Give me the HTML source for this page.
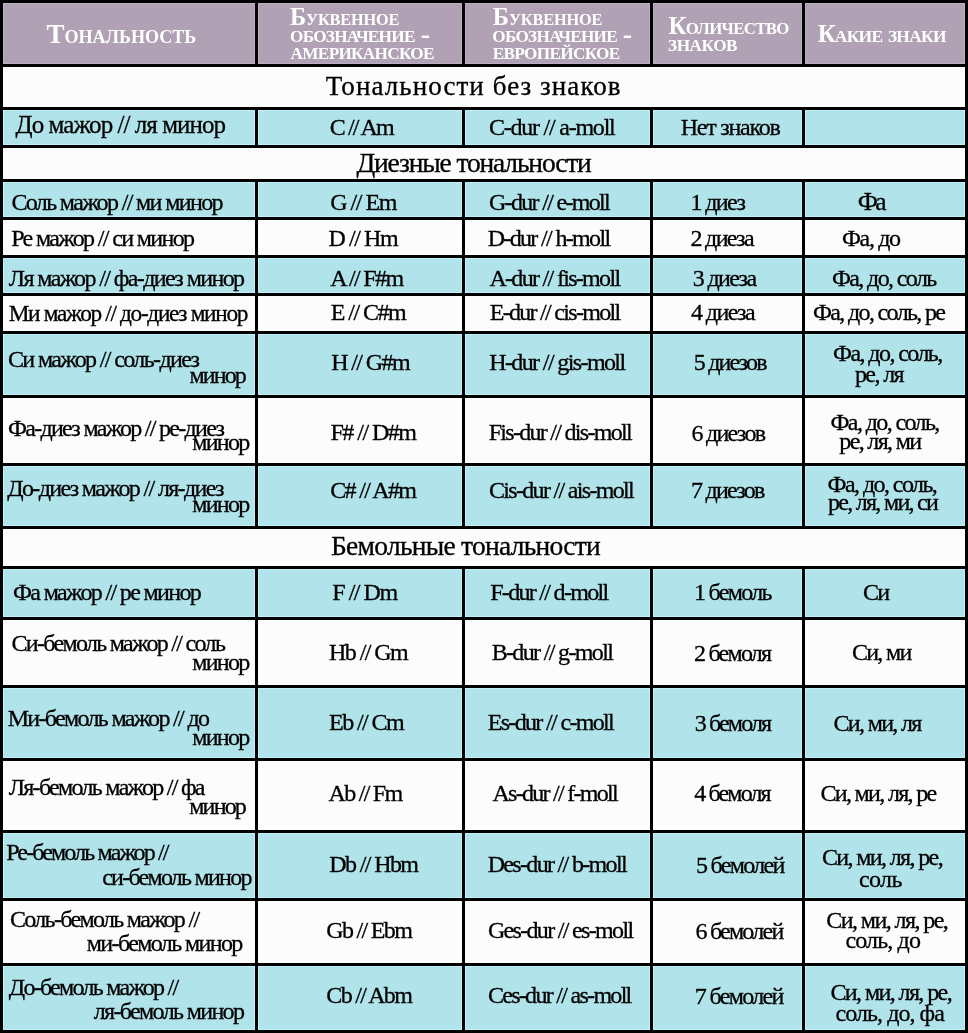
<!DOCTYPE html>
<html lang="ru"><head><meta charset="utf-8"><title>Тональности</title>
<style>
html,body{margin:0;padding:0}
body{width:968px;height:1033px;background:#000;position:relative;overflow:hidden;font-family:"Liberation Serif","Times New Roman",serif;color:#000}
.c{position:absolute}
.p{background:#b0a2b4;box-shadow:inset 0 0 0 1px #bcaec1}
.b{background:#b0e4ea;box-shadow:inset 0 0 0 1px #bdf1f7}
.w{background:#fcfcfc}
.t{position:absolute;white-space:pre;line-height:1;color:#000;-webkit-text-stroke:0.3px #000}
.h,.hd{font-weight:bold;color:#fff;-webkit-text-stroke:0}
</style></head><body>
<div class="c p" style="left:3px;top:3px;width:252px;height:61px"></div>
<div class="c p" style="left:258px;top:3px;width:204px;height:61px"></div>
<div class="c p" style="left:465px;top:3px;width:185px;height:61px"></div>
<div class="c p" style="left:653px;top:3px;width:149px;height:61px"></div>
<div class="c p" style="left:805px;top:3px;width:160px;height:61px"></div>
<div class="c w" style="left:3px;top:67px;width:962px;height:40px"></div>
<div class="c b" style="left:3px;top:110px;width:252px;height:35px"></div>
<div class="c b" style="left:258px;top:110px;width:204px;height:35px"></div>
<div class="c b" style="left:465px;top:110px;width:185px;height:35px"></div>
<div class="c b" style="left:653px;top:110px;width:149px;height:35px"></div>
<div class="c b" style="left:805px;top:110px;width:160px;height:35px"></div>
<div class="c w" style="left:3px;top:148px;width:962px;height:31px"></div>
<div class="c b" style="left:3px;top:182px;width:252px;height:35px"></div>
<div class="c b" style="left:258px;top:182px;width:204px;height:35px"></div>
<div class="c b" style="left:465px;top:182px;width:185px;height:35px"></div>
<div class="c b" style="left:653px;top:182px;width:149px;height:35px"></div>
<div class="c b" style="left:805px;top:182px;width:160px;height:35px"></div>
<div class="c w" style="left:3px;top:220px;width:252px;height:35px"></div>
<div class="c w" style="left:258px;top:220px;width:204px;height:35px"></div>
<div class="c w" style="left:465px;top:220px;width:185px;height:35px"></div>
<div class="c w" style="left:653px;top:220px;width:149px;height:35px"></div>
<div class="c w" style="left:805px;top:220px;width:160px;height:35px"></div>
<div class="c b" style="left:3px;top:258px;width:252px;height:35px"></div>
<div class="c b" style="left:258px;top:258px;width:204px;height:35px"></div>
<div class="c b" style="left:465px;top:258px;width:185px;height:35px"></div>
<div class="c b" style="left:653px;top:258px;width:149px;height:35px"></div>
<div class="c b" style="left:805px;top:258px;width:160px;height:35px"></div>
<div class="c w" style="left:3px;top:296px;width:252px;height:35px"></div>
<div class="c w" style="left:258px;top:296px;width:204px;height:35px"></div>
<div class="c w" style="left:465px;top:296px;width:185px;height:35px"></div>
<div class="c w" style="left:653px;top:296px;width:149px;height:35px"></div>
<div class="c w" style="left:805px;top:296px;width:160px;height:35px"></div>
<div class="c b" style="left:3px;top:334px;width:252px;height:61px"></div>
<div class="c b" style="left:258px;top:334px;width:204px;height:61px"></div>
<div class="c b" style="left:465px;top:334px;width:185px;height:61px"></div>
<div class="c b" style="left:653px;top:334px;width:149px;height:61px"></div>
<div class="c b" style="left:805px;top:334px;width:160px;height:61px"></div>
<div class="c w" style="left:3px;top:398px;width:252px;height:65px"></div>
<div class="c w" style="left:258px;top:398px;width:204px;height:65px"></div>
<div class="c w" style="left:465px;top:398px;width:185px;height:65px"></div>
<div class="c w" style="left:653px;top:398px;width:149px;height:65px"></div>
<div class="c w" style="left:805px;top:398px;width:160px;height:65px"></div>
<div class="c b" style="left:3px;top:466px;width:252px;height:60px"></div>
<div class="c b" style="left:258px;top:466px;width:204px;height:60px"></div>
<div class="c b" style="left:465px;top:466px;width:185px;height:60px"></div>
<div class="c b" style="left:653px;top:466px;width:149px;height:60px"></div>
<div class="c b" style="left:805px;top:466px;width:160px;height:60px"></div>
<div class="c w" style="left:3px;top:529px;width:962px;height:37px"></div>
<div class="c b" style="left:3px;top:569px;width:252px;height:48px"></div>
<div class="c b" style="left:258px;top:569px;width:204px;height:48px"></div>
<div class="c b" style="left:465px;top:569px;width:185px;height:48px"></div>
<div class="c b" style="left:653px;top:569px;width:149px;height:48px"></div>
<div class="c b" style="left:805px;top:569px;width:160px;height:48px"></div>
<div class="c w" style="left:3px;top:620px;width:252px;height:65px"></div>
<div class="c w" style="left:258px;top:620px;width:204px;height:65px"></div>
<div class="c w" style="left:465px;top:620px;width:185px;height:65px"></div>
<div class="c w" style="left:653px;top:620px;width:149px;height:65px"></div>
<div class="c w" style="left:805px;top:620px;width:160px;height:65px"></div>
<div class="c b" style="left:3px;top:688px;width:252px;height:70px"></div>
<div class="c b" style="left:258px;top:688px;width:204px;height:70px"></div>
<div class="c b" style="left:465px;top:688px;width:185px;height:70px"></div>
<div class="c b" style="left:653px;top:688px;width:149px;height:70px"></div>
<div class="c b" style="left:805px;top:688px;width:160px;height:70px"></div>
<div class="c w" style="left:3px;top:761px;width:252px;height:69px"></div>
<div class="c w" style="left:258px;top:761px;width:204px;height:69px"></div>
<div class="c w" style="left:465px;top:761px;width:185px;height:69px"></div>
<div class="c w" style="left:653px;top:761px;width:149px;height:69px"></div>
<div class="c w" style="left:805px;top:761px;width:160px;height:69px"></div>
<div class="c b" style="left:3px;top:833px;width:252px;height:65px"></div>
<div class="c b" style="left:258px;top:833px;width:204px;height:65px"></div>
<div class="c b" style="left:465px;top:833px;width:185px;height:65px"></div>
<div class="c b" style="left:653px;top:833px;width:149px;height:65px"></div>
<div class="c b" style="left:805px;top:833px;width:160px;height:65px"></div>
<div class="c w" style="left:3px;top:901px;width:252px;height:62px"></div>
<div class="c w" style="left:258px;top:901px;width:204px;height:62px"></div>
<div class="c w" style="left:465px;top:901px;width:185px;height:62px"></div>
<div class="c w" style="left:653px;top:901px;width:149px;height:62px"></div>
<div class="c w" style="left:805px;top:901px;width:160px;height:62px"></div>
<div class="c b" style="left:3px;top:966px;width:252px;height:64px"></div>
<div class="c b" style="left:258px;top:966px;width:204px;height:64px"></div>
<div class="c b" style="left:465px;top:966px;width:185px;height:64px"></div>
<div class="c b" style="left:653px;top:966px;width:149px;height:64px"></div>
<div class="c b" style="left:805px;top:966px;width:160px;height:64px"></div>
<span class="t h" style="left:46.46px;top:20.80px;font-size:27px;letter-spacing:-0.038px">Т<span class="sc" style="font-size:18.1px;text-transform:uppercase">ональность</span></span>
<span class="t h" style="left:290.06px;top:4.70px;font-size:24.5px;letter-spacing:-0.161px">Б<span class="sc" style="font-size:16.3px;text-transform:uppercase">уквенное</span></span>
<span class="t h" style="left:290.00px;top:22.00px;font-size:24.5px;letter-spacing:-0.713px"><span class="sc" style="font-size:17.2px;text-transform:uppercase">обозначение</span></span>
<span class="t hd" style="left:420.65px;top:19.57px;font-size:28px;letter-spacing:0.000px">-</span>
<span class="t h" style="left:290.61px;top:39.00px;font-size:24.5px;letter-spacing:-0.694px"><span class="sc" style="font-size:17.2px;text-transform:uppercase">американское</span></span>
<span class="t h" style="left:492.81px;top:4.70px;font-size:24.5px;letter-spacing:-0.118px">Б<span class="sc" style="font-size:16.3px;text-transform:uppercase">уквенное</span></span>
<span class="t h" style="left:492.25px;top:22.00px;font-size:24.5px;letter-spacing:-0.708px"><span class="sc" style="font-size:17.2px;text-transform:uppercase">обозначение</span></span>
<span class="t hd" style="left:622.85px;top:19.57px;font-size:28px;letter-spacing:0.000px">-</span>
<span class="t h" style="left:492.63px;top:39.00px;font-size:24.5px;letter-spacing:-0.662px"><span class="sc" style="font-size:17.2px;text-transform:uppercase">европейское</span></span>
<span class="t h" style="left:668.46px;top:13.80px;font-size:24.7px;letter-spacing:-0.643px">К<span class="sc" style="font-size:16.8px;text-transform:uppercase">оличество</span></span>
<span class="t h" style="left:668.12px;top:29.90px;font-size:25.5px;letter-spacing:-0.464px"><span class="sc" style="font-size:17.2px;text-transform:uppercase">знаков</span></span>
<span class="t h" style="left:817.66px;top:21.70px;font-size:24.7px;letter-spacing:-0.716px;word-spacing:2px">К<span class="sc" style="font-size:17.4px;text-transform:uppercase">акие знаки</span></span>
<span class="t" style="left:325.81px;top:73.30px;font-size:27px;letter-spacing:1.073px">Тональности без знаков</span>
<span class="t" style="left:356.45px;top:149.30px;font-size:27.5px;letter-spacing:-1.150px">Диезные тональности</span>
<span class="t" style="left:331.01px;top:531.60px;font-size:27.5px;letter-spacing:-0.723px">Бемольные тональности</span>
<span class="t" style="left:15.56px;top:112.30px;font-size:25px;letter-spacing:-0.944px">До мажор // ля минор</span>
<span class="t" style="left:11.45px;top:190.00px;font-size:24px;letter-spacing:-1.641px">Соль мажор // ми минор</span>
<span class="t" style="left:11.19px;top:226.00px;font-size:24px;letter-spacing:-1.641px">Ре мажор // си минор</span>
<span class="t" style="left:8.71px;top:265.50px;font-size:24px;letter-spacing:-1.603px">Ля мажор // фа-диез минор</span>
<span class="t" style="left:8.70px;top:301.50px;font-size:23.3px;letter-spacing:-1.328px">Ми мажор // до-диез минор</span>
<span class="t" style="left:7.95px;top:346.80px;font-size:24px;letter-spacing:-1.627px">Си мажор // соль-диез</span>
<span class="t" style="left:189.54px;top:363.00px;font-size:24px;letter-spacing:-1.885px">минор</span>
<span class="t" style="left:8.00px;top:415.50px;font-size:24px;letter-spacing:-1.710px">Фа-диез мажор // ре-диез</span>
<span class="t" style="left:192.24px;top:430.20px;font-size:24px;letter-spacing:-1.710px">минор</span>
<span class="t" style="left:7.26px;top:475.50px;font-size:24px;letter-spacing:-1.657px">До-диез мажор // ля-диез</span>
<span class="t" style="left:192.24px;top:492.00px;font-size:24px;letter-spacing:-1.710px">минор</span>
<span class="t" style="left:13.00px;top:580.00px;font-size:24px;letter-spacing:-1.646px">Фа мажор // ре минор</span>
<span class="t" style="left:11.45px;top:631.00px;font-size:24px;letter-spacing:-1.684px">Си-бемоль мажор // соль</span>
<span class="t" style="left:192.24px;top:650.00px;font-size:24px;letter-spacing:-1.710px">минор</span>
<span class="t" style="left:7.69px;top:705.70px;font-size:24px;letter-spacing:-1.674px">Ми-бемоль мажор // до</span>
<span class="t" style="left:192.24px;top:725.30px;font-size:24px;letter-spacing:-1.710px">минор</span>
<span class="t" style="left:8.71px;top:775.20px;font-size:24px;letter-spacing:-1.702px">Ля-бемоль мажор // фа</span>
<span class="t" style="left:189.24px;top:793.50px;font-size:24px;letter-spacing:-1.810px">минор</span>
<span class="t" style="left:6.19px;top:839.80px;font-size:24px;letter-spacing:-1.872px">Ре-бемоль мажор //</span>
<span class="t" style="left:102.20px;top:864.80px;font-size:24px;letter-spacing:-1.747px">си-бемоль минор</span>
<span class="t" style="left:9.95px;top:907.00px;font-size:24px;letter-spacing:-1.668px">Соль-бемоль мажор //</span>
<span class="t" style="left:86.74px;top:931.00px;font-size:24px;letter-spacing:-1.622px">ми-бемоль минор</span>
<span class="t" style="left:8.76px;top:974.50px;font-size:24px;letter-spacing:-1.721px">До-бемоль мажор //</span>
<span class="t" style="left:93.72px;top:998.50px;font-size:24px;letter-spacing:-1.642px">ля-бемоль минор</span>
<span class="t" style="left:329.75px;top:115.00px;font-size:24px;letter-spacing:-1.857px">C // Am</span>
<span class="t" style="left:330.25px;top:189.60px;font-size:24px;letter-spacing:-1.491px">G // Em</span>
<span class="t" style="left:328.49px;top:226.00px;font-size:24px;letter-spacing:-1.419px">D // Hm</span>
<span class="t" style="left:330.21px;top:265.50px;font-size:24px;letter-spacing:-1.642px">A // F#m</span>
<span class="t" style="left:330.69px;top:300.00px;font-size:24px;letter-spacing:-1.531px">E // C#m</span>
<span class="t" style="left:331.14px;top:349.80px;font-size:24px;letter-spacing:-1.595px">H // G#m</span>
<span class="t" style="left:330.59px;top:420.20px;font-size:24px;letter-spacing:-1.552px">F# // D#m</span>
<span class="t" style="left:330.25px;top:477.60px;font-size:24px;letter-spacing:-1.668px">C# // A#m</span>
<span class="t" style="left:332.29px;top:580.00px;font-size:24px;letter-spacing:-1.486px">F // Dm</span>
<span class="t" style="left:329.04px;top:640.00px;font-size:24px;letter-spacing:-1.567px">Hb // Gm</span>
<span class="t" style="left:329.09px;top:709.80px;font-size:24px;letter-spacing:-1.588px">Eb // Cm</span>
<span class="t" style="left:328.61px;top:780.80px;font-size:24px;letter-spacing:-1.734px">Ab // Fm</span>
<span class="t" style="left:329.19px;top:851.80px;font-size:24px;letter-spacing:-1.614px">Db // Hbm</span>
<span class="t" style="left:326.35px;top:917.80px;font-size:24px;letter-spacing:-1.693px">Gb // Ebm</span>
<span class="t" style="left:326.35px;top:982.60px;font-size:24px;letter-spacing:-1.693px">Cb // Abm</span>
<span class="t" style="left:488.95px;top:115.00px;font-size:24px;letter-spacing:-1.227px">C-dur // a-moll</span>
<span class="t" style="left:488.95px;top:190.00px;font-size:24px;letter-spacing:-1.676px">G-dur // e-moll</span>
<span class="t" style="left:487.69px;top:226.00px;font-size:24px;letter-spacing:-1.662px">D-dur // h-moll</span>
<span class="t" style="left:489.41px;top:265.50px;font-size:24px;letter-spacing:-1.687px">A-dur // fis-moll</span>
<span class="t" style="left:489.69px;top:300.30px;font-size:24px;letter-spacing:-1.704px">E-dur // cis-moll</span>
<span class="t" style="left:489.24px;top:349.80px;font-size:24px;letter-spacing:-1.614px">H-dur // gis-moll</span>
<span class="t" style="left:488.69px;top:420.00px;font-size:24px;letter-spacing:-1.709px">Fis-dur // dis-moll</span>
<span class="t" style="left:488.95px;top:477.50px;font-size:24px;letter-spacing:-1.677px">Cis-dur // ais-moll</span>
<span class="t" style="left:490.19px;top:580.00px;font-size:24px;letter-spacing:-1.698px">F-dur // d-moll</span>
<span class="t" style="left:491.69px;top:640.00px;font-size:24px;letter-spacing:-1.657px">B-dur // g-moll</span>
<span class="t" style="left:487.69px;top:710.00px;font-size:24px;letter-spacing:-1.661px">Es-dur // c-moll</span>
<span class="t" style="left:492.41px;top:781.00px;font-size:24px;letter-spacing:-1.710px">As-dur // f-moll</span>
<span class="t" style="left:487.69px;top:852.00px;font-size:24px;letter-spacing:-1.673px">Des-dur // b-moll</span>
<span class="t" style="left:487.95px;top:918.00px;font-size:24px;letter-spacing:-1.678px">Ges-dur // es-moll</span>
<span class="t" style="left:487.95px;top:982.50px;font-size:24px;letter-spacing:-1.704px">Ces-dur // as-moll</span>
<span class="t" style="left:680.74px;top:115.00px;font-size:24px;letter-spacing:-1.238px">Нет знаков</span>
<span class="t" style="left:690.48px;top:190.00px;font-size:24px;letter-spacing:-1.613px">1 диез</span>
<span class="t" style="left:690.42px;top:226.00px;font-size:24px;letter-spacing:-1.657px">2 диеза</span>
<span class="t" style="left:692.77px;top:265.50px;font-size:24px;letter-spacing:-1.632px">3 диеза</span>
<span class="t" style="left:691.02px;top:300.30px;font-size:24px;letter-spacing:-1.590px">4 диеза</span>
<span class="t" style="left:693.85px;top:350.00px;font-size:24px;letter-spacing:-1.856px">5 диезов</span>
<span class="t" style="left:691.53px;top:421.00px;font-size:24px;letter-spacing:-1.738px">6 диезов</span>
<span class="t" style="left:691.02px;top:477.50px;font-size:24px;letter-spacing:-1.751px">7 диезов</span>
<span class="t" style="left:694.08px;top:580.00px;font-size:24px;letter-spacing:-1.727px">1 бемоль</span>
<span class="t" style="left:693.92px;top:640.50px;font-size:24px;letter-spacing:-1.745px">2 бемоля</span>
<span class="t" style="left:694.77px;top:711.00px;font-size:24px;letter-spacing:-1.866px">3 бемоля</span>
<span class="t" style="left:694.32px;top:781.30px;font-size:24px;letter-spacing:-1.873px">4 бемоля</span>
<span class="t" style="left:696.05px;top:852.80px;font-size:24px;letter-spacing:-1.711px">5 бемолей</span>
<span class="t" style="left:695.43px;top:918.50px;font-size:24px;letter-spacing:-1.758px">6 бемолей</span>
<span class="t" style="left:694.82px;top:983.50px;font-size:24px;letter-spacing:-1.681px">7 бемолей</span>
<span class="t" style="left:857.81px;top:189.00px;font-size:25.5px;letter-spacing:-2.765px">Фа</span>
<span class="t" style="left:842.00px;top:226.00px;font-size:24px;letter-spacing:-1.357px">Фа, до</span>
<span class="t" style="left:832.00px;top:265.50px;font-size:24px;letter-spacing:-1.624px">Фа, до, соль</span>
<span class="t" style="left:813.00px;top:300.30px;font-size:24px;letter-spacing:-1.653px">Фа, до, соль, ре</span>
<span class="t" style="left:833.10px;top:341.00px;font-size:24px;letter-spacing:-1.585px">Фа, до, соль,</span>
<span class="t" style="left:854.97px;top:362.00px;font-size:24px;letter-spacing:-1.621px">ре, ля</span>
<span class="t" style="left:830.50px;top:410.00px;font-size:24px;letter-spacing:-1.610px">Фа, до, соль,</span>
<span class="t" style="left:839.37px;top:428.90px;font-size:24px;letter-spacing:-1.662px">ре, ля, ми</span>
<span class="t" style="left:827.60px;top:471.90px;font-size:24px;letter-spacing:-1.568px">Фа, до, соль,</span>
<span class="t" style="left:827.97px;top:490.20px;font-size:24px;letter-spacing:-1.712px">ре, ля, ми, си</span>
<span class="t" style="left:862.95px;top:580.00px;font-size:24px;letter-spacing:-1.588px">Си</span>
<span class="t" style="left:851.95px;top:640.00px;font-size:24px;letter-spacing:-1.718px">Си, ми</span>
<span class="t" style="left:833.55px;top:711.00px;font-size:24px;letter-spacing:-1.688px">Си, ми, ля</span>
<span class="t" style="left:820.45px;top:781.30px;font-size:24px;letter-spacing:-1.673px">Си, ми, ля, ре</span>
<span class="t" style="left:821.95px;top:844.50px;font-size:24px;letter-spacing:-1.633px">Си, ми, ля, ре,</span>
<span class="t" style="left:858.90px;top:866.60px;font-size:24px;letter-spacing:-0.555px">соль</span>
<span class="t" style="left:826.35px;top:907.50px;font-size:24px;letter-spacing:-1.583px">Си, ми, ля, ре,</span>
<span class="t" style="left:845.50px;top:928.10px;font-size:24px;letter-spacing:-0.864px">соль, до</span>
<span class="t" style="left:830.45px;top:980.30px;font-size:24px;letter-spacing:-1.597px">Си, ми, ля, ре,</span>
<span class="t" style="left:835.50px;top:1001.00px;font-size:24px;letter-spacing:-0.935px">соль, до, фа</span>
</body></html>
